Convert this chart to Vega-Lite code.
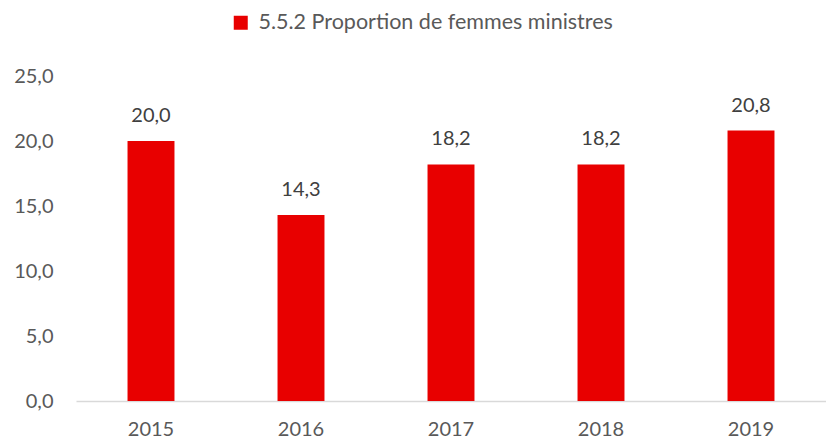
{
  "$schema": "https://vega.github.io/schema/vega-lite/v6.json",
  "width": 750,
  "height": 325,
  "autosize": {"type": "none"},
  "padding": {"left": 76, "top": 76, "right": 0, "bottom": 40},
  "background": "white",
  "config": {
    "view": {"stroke": null},
    "font": "Lato",
    "locale": {"number": {"decimal": ",", "thousands": " ", "grouping": [3], "currency": ["", " €"]}}
  },
  "data": {
    "values": [
      {"annee": "2015", "valeur": 20.0, "serie": "5.5.2 Proportion de femmes ministres"},
      {"annee": "2016", "valeur": 14.3, "serie": "5.5.2 Proportion de femmes ministres"},
      {"annee": "2017", "valeur": 18.2, "serie": "5.5.2 Proportion de femmes ministres"},
      {"annee": "2018", "valeur": 18.2, "serie": "5.5.2 Proportion de femmes ministres"},
      {"annee": "2019", "valeur": 20.8, "serie": "5.5.2 Proportion de femmes ministres"}
    ]
  },
  "encoding": {
    "x": {
      "field": "annee", "type": "nominal",
      "scale": {"paddingInner": 0.687, "paddingOuter": 0.3435},
      "axis": {"title": null, "labelAngle": 0, "labelFontSize": 20, "labelColor": "#595959", "labelPadding": 18, "ticks": false, "domainColor": "#D9D9D9", "domainWidth": 1.5}
    },
    "y": {
      "field": "valeur", "type": "quantitative",
      "scale": {"domain": [0, 25]},
      "axis": {"title": null, "values": [0, 5, 10, 15, 20, 25], "format": ".1f", "labelFontSize": 20, "labelColor": "#595959", "labelPadding": 23, "ticks": false, "domain": false, "grid": false}
    }
  },
  "layer": [
    {
      "mark": {"type": "bar", "color": "#E80000"},
      "encoding": {
        "color": {
          "field": "serie", "type": "nominal",
          "scale": {"range": ["#E80000"]},
          "legend": {"title": null, "orient": "none", "legendX": 154, "legendY": -64, "direction": "horizontal", "symbolType": "square", "symbolSize": 196, "symbolStrokeWidth": 0, "labelFontSize": 21.5, "labelColor": "#595959", "labelOffset": 7, "labelLimit": 600}
        }
      }
    },
    {
      "mark": {"type": "text", "baseline": "bottom", "dy": -15, "fontSize": 20, "color": "#404040"},
      "encoding": {
        "text": {"field": "valeur", "type": "quantitative", "format": ".1f"}
      }
    }
  ]
}
